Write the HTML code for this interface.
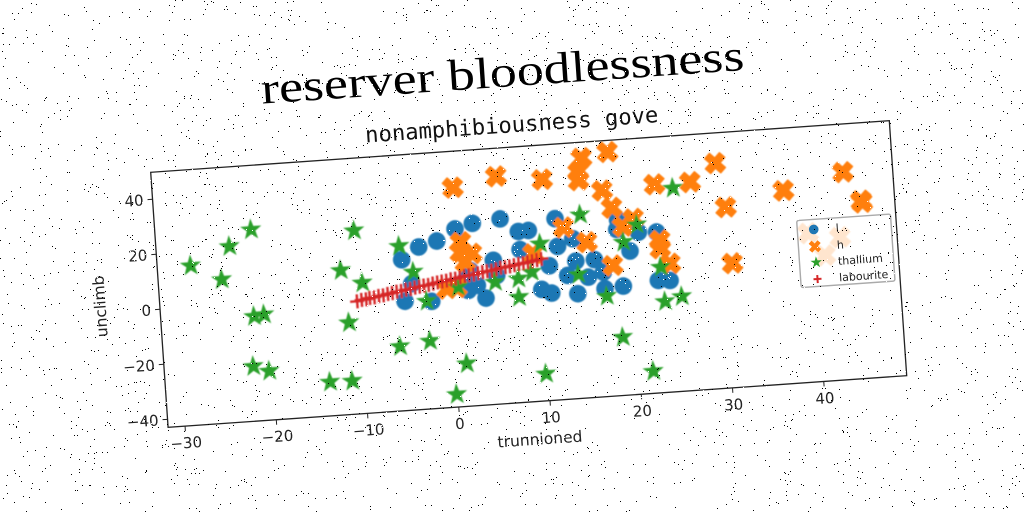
<!DOCTYPE html>
<html>
<head>
<meta charset="utf-8">
<title>reserver bloodlessness</title>
<style>
html,body{margin:0;padding:0;background:#fff;width:1024px;height:512px;overflow:hidden}
svg{display:block}
text{font-family:"DejaVu Sans","Liberation Sans",sans-serif;fill:#222}
</style>
</head>
<body>
<svg id="chart" xmlns="http://www.w3.org/2000/svg" width="1024" height="512" viewBox="0 0 1024 512">
  <defs>
    <filter id="soft" x="-5%" y="-5%" width="110%" height="110%"><feGaussianBlur stdDeviation="0.4"/></filter>
  </defs>
  <rect width="1024" height="512" fill="#fff"/>
  <g id="plot" transform="matrix(1,-0.0699,0.0682,1,150.7,172.3)">
    <text x="115.4" y="-60.6" textLength="483" lengthAdjust="spacingAndGlyphs" style="font-family:'Liberation Serif',serif;font-size:44px;fill:#000">reserver bloodlessness</text>
    <text x="216" y="-14.7" textLength="293" lengthAdjust="spacingAndGlyphs" style="font-family:'DejaVu Sans Mono','Liberation Mono',monospace;font-size:22px;fill:#111">nonamphibiousness gove</text>
    <g id="marks" filter="url(#soft)"></g>
    <rect x="0" y="0" width="738.6" height="255" fill="none" stroke="#222" stroke-width="1.3"/>
    <g id="ticks"></g>
    <text x="369.3" y="298" text-anchor="middle" style="font-size:15.5px">trunnioned</text>
    <text transform="translate(-54,130) rotate(-90)" text-anchor="middle" style="font-size:15.5px">unclimb</text>
    <g id="legend">
      <rect x="639.6" y="93" width="93.8" height="67" rx="2" fill="#fff" fill-opacity="0.8" stroke="#aaa" stroke-width="1.4"/>
      <circle cx="656" cy="103" r="4.8" fill="#1f77b4"/>
      <polygon transform="translate(656,120)" points="-3,-6 0,-3 3,-6 6,-3 3,0 6,3 3,6 0,3 -3,6 -6,3 -3,0 -6,-3" fill="#ff7f0e"/>
      <polygon transform="translate(656.3,136)" points="0,-6 1.4,-1.9 5.7,-1.9 2.2,0.7 3.5,4.9 0,2.3 -3.5,4.9 -2.2,0.7 -5.7,-1.9 -1.4,-1.9" fill="#2ca02c"/>
      <path d="M652.4,152.6h8M656.4,148.6v8" stroke="#d62728" stroke-width="2" fill="none"/>
      <text x="678" y="107" style="font-size:11px">l</text>
      <text x="678" y="124" style="font-size:11px">h</text>
      <text x="678" y="140" style="font-size:11px">thallium</text>
      <text x="678" y="156.5" style="font-size:11px">labourite</text>
    </g>
  </g>
  <path id="pepper" fill="#000" shape-rendering="crispEdges"/>
  <path id="salt" fill="#fff" shape-rendering="crispEdges"/>
</svg>
<script>
var xTicks = [-30,-20,-10,0,10,20,30,40];
var yTicks = [-40,-20,0,20,40];

var lX = [2.84,0.91,5.9,-1.17,-3.18,-5.13,7.8,8.9,11.9,7.85,11.97,4.86,10.93,9.93,10.99,3.78,-2.16,-5.08,1.91,2.93,1.84,-4.21,5.12,13.68,13.85,15.89,12.86,15.1,16.78,19.84,22.87,18.71,18.55,20.89,22.71,23.99,16.83,18.85,13.83,2.24];
var lY = [23.2,21.6,24.1,17.7,16.0,11.8,19.1,19.2,22.8,12.5,12.7,9.3,5.9,-2.45,-4.05,-4.2,-4.0,-3.3,-0.96,0.62,3.9,2.9,3.75,15.1,6.9,7.0,1.95,0.8,2.24,9.2,15.4,20.8,17.35,15.8,-2.16,-2.46,-3.81,-3.33,-4.93,6.24];

var hX = [0.97,5.77,10.77,15.22,18.1,14.79,14.72,17.24,18.17,22.98,12.74,19.23,20.44,29.77,26.9,30.61,37.02,43.64,45.42,45.51,30.91,15.19,17.84,23.19,23.13,24.12,1.44,2.55,1.76,1.28,-0.44,0.66,9.27,39.4,42.85,41.09];
var hY = [36.6,39.6,37.3,44.05,45.6,39.1,36.1,31.8,25.3,32.7,19.4,18.3,20.8,38.85,32.6,22.65,27.2,32.35,21.6,20.9,2.2,13.5,4.4,12.3,9.4,3.6,16.7,12.2,9.4,13.1,0.2,0.3,10.7,11.15,8.9,2.65];

var thalliumX = [-21.35,-23.83,-28.2,-24.91,-21.66,-20.56,-10.12,-11.86,-9.6,-11.35,-22.11,-20.4,-13.86,-11.42,-5.95,-2.65,1.2,-0.13,9.77,18.41,21.49,-5.32,-3.95,-2.71,0.81,4.88,7.46,7.39,8.97,10.08,14.66,19.18,20.77,23.07,14.03,16.97,23.29,25.15,24.97];
var thalliumY = [26.5,21.0,15.0,9.2,-4.92,-4.56,23.56,9.5,4.46,-9.6,-23.0,-25.1,-30.6,-30.8,-19.5,-18.3,-27.4,-38.3,-33.1,-21.8,-34.9,16.8,7.1,-3.8,0.5,1.4,2.0,-4.7,4.06,14.1,23.6,12.6,18.55,2.6,2.04,-6.53,-9.93,-8.55,30.9];

var labouriteX = [-10.3,-9.8,-9.3,-8.9,-8.4,-7.9,-7.4,-6.9,-6.4,-5.9,-5.4,-4.9,-4.4,-3.9,-3.4,-2.9,-2.4,-1.9,-1.4,-0.9,-0.4,0.1,0.6,1.1,1.6,2.1,2.6,3.1,3.6,4.1,4.6,5.1,5.6,6.1,6.6,7.1,7.6,8.1,8.6,9.1,9.6,10.1];
var labouriteY = [-2.1,-1.7,-1.6,-1.2,-1.1,-0.7,-0.6,-0.2,0,0.4,0.5,0.9,1.0,1.4,1.6,1.9,2.0,2.4,2.7,2.9,3.1,3.5,3.6,4.0,4.3,4.5,4.6,5.0,5.3,5.5,5.6,6.0,6.4,6.5,6.7,7.0,7.3,7.5,7.7,8.0,8.3,8.6];

var NS = 'http://www.w3.org/2000/svg';
var W = 738.6, H = 255;
var xMin = -31.86, xMax = 49.09, yMin = -42.9, yMax = 49.8;
function sx(x){ return (x - xMin) / (xMax - xMin) * W; }
function sy(y){ return (yMax - y) / (yMax - yMin) * H; }
function fmt(v){ return String(v).replace('-', '\u2212'); }

var marks = document.getElementById('marks');
var ticks = document.getElementById('ticks');
var STAR = '0,-11.2 2.6,-3.6 10.6,-3.5 4.3,1.3 6.6,9.1 0,4.5 -6.6,9.1 -4.3,1.3 -10.6,-3.5 -2.6,-3.6';
var CROSS = '-5,-10 0,-5 5,-10 10,-5 5,0 10,5 5,10 0,5 -5,10 -10,5 -5,0 -10,-5';

lX.forEach(function(x, i){
  var c = document.createElementNS(NS, 'circle');
  
  
  c.setAttribute('cx', sx(x));
  c.setAttribute('cy', sy(lY[i]));
  c.setAttribute('r', 8.8);
  c.setAttribute('fill', '#1f77b4');
  marks.appendChild(c);
});
hX.forEach(function(x, i){
  var p = document.createElementNS(NS, 'polygon');
  
  
  p.setAttribute('points', CROSS);
  p.setAttribute('transform', 'translate(' + sx(x) + ',' + sy(hY[i]) + ')');
  p.setAttribute('fill', '#ff7f0e');
  p.setAttribute('stroke', '#ff7f0e');
  p.setAttribute('stroke-width', 1.4);
  p.setAttribute('stroke-linejoin', 'round');
  marks.appendChild(p);
});
thalliumX.forEach(function(x, i){
  var p = document.createElementNS(NS, 'polygon');
  
  
  p.setAttribute('points', STAR);
  p.setAttribute('transform', 'translate(' + sx(x) + ',' + sy(thalliumY[i]) + ')');
  p.setAttribute('fill', '#2ca02c');
  marks.appendChild(p);
});
labouriteX.forEach(function(x, i){
  var u = sx(x), v = sy(labouriteY[i]);
  var p = document.createElementNS(NS, 'path');
  
  
  p.setAttribute('d', 'M' + (u - 7) + ',' + v + 'h14M' + u + ',' + (v - 7) + 'v14');
  p.setAttribute('stroke', '#d62728');
  p.setAttribute('stroke-width', 2.4);
  p.setAttribute('fill', 'none');
  marks.appendChild(p);
});

xTicks.forEach(function(t){
  var l = document.createElementNS(NS, 'line');
  
  
  l.setAttribute('x1', sx(t));
  l.setAttribute('x2', sx(t));
  l.setAttribute('y1', H);
  l.setAttribute('y2', H + 5);
  l.setAttribute('stroke', '#222');
  l.setAttribute('stroke-width', 1);
  ticks.appendChild(l);
  var s = document.createElementNS(NS, 'text');
  
  
  s.setAttribute('x', sx(t));
  s.setAttribute('y', H + 22);
  s.setAttribute('text-anchor', 'middle');
  s.setAttribute('style', 'font-size:15px');
  s.textContent = fmt(t);
  ticks.appendChild(s);
});
yTicks.forEach(function(t){
  var l = document.createElementNS(NS, 'line');
  
  
  l.setAttribute('x1', -5);
  l.setAttribute('x2', 0);
  l.setAttribute('y1', sy(t));
  l.setAttribute('y2', sy(t));
  l.setAttribute('stroke', '#222');
  l.setAttribute('stroke-width', 1);
  ticks.appendChild(l);
  var s = document.createElementNS(NS, 'text');
  
  
  s.setAttribute('x', -9);
  s.setAttribute('y', sy(t) + 5.5);
  s.setAttribute('text-anchor', 'end');
  s.setAttribute('style', 'font-size:15px');
  s.textContent = fmt(t);
  ticks.appendChild(s);
});

/* decorative salt-and-pepper speckle over the whole picture (not chart data) */
var seed = 20240611;
function rnd(){ seed = (seed * 1664525 + 1013904223) % 4294967296; return seed / 4294967296; }
function speckle(n){
  var d = '';
  for (var i = 0; i < n; i++) {
    d += 'M' + Math.floor(rnd() * 1024) + ',' + Math.floor(rnd() * 512) + 'h1v1h-1z';
  }
  return d;
}
document.getElementById('pepper').setAttribute('d', speckle(3600));
document.getElementById('salt').setAttribute('d', speckle(3600));
</script>
</body>
</html>
